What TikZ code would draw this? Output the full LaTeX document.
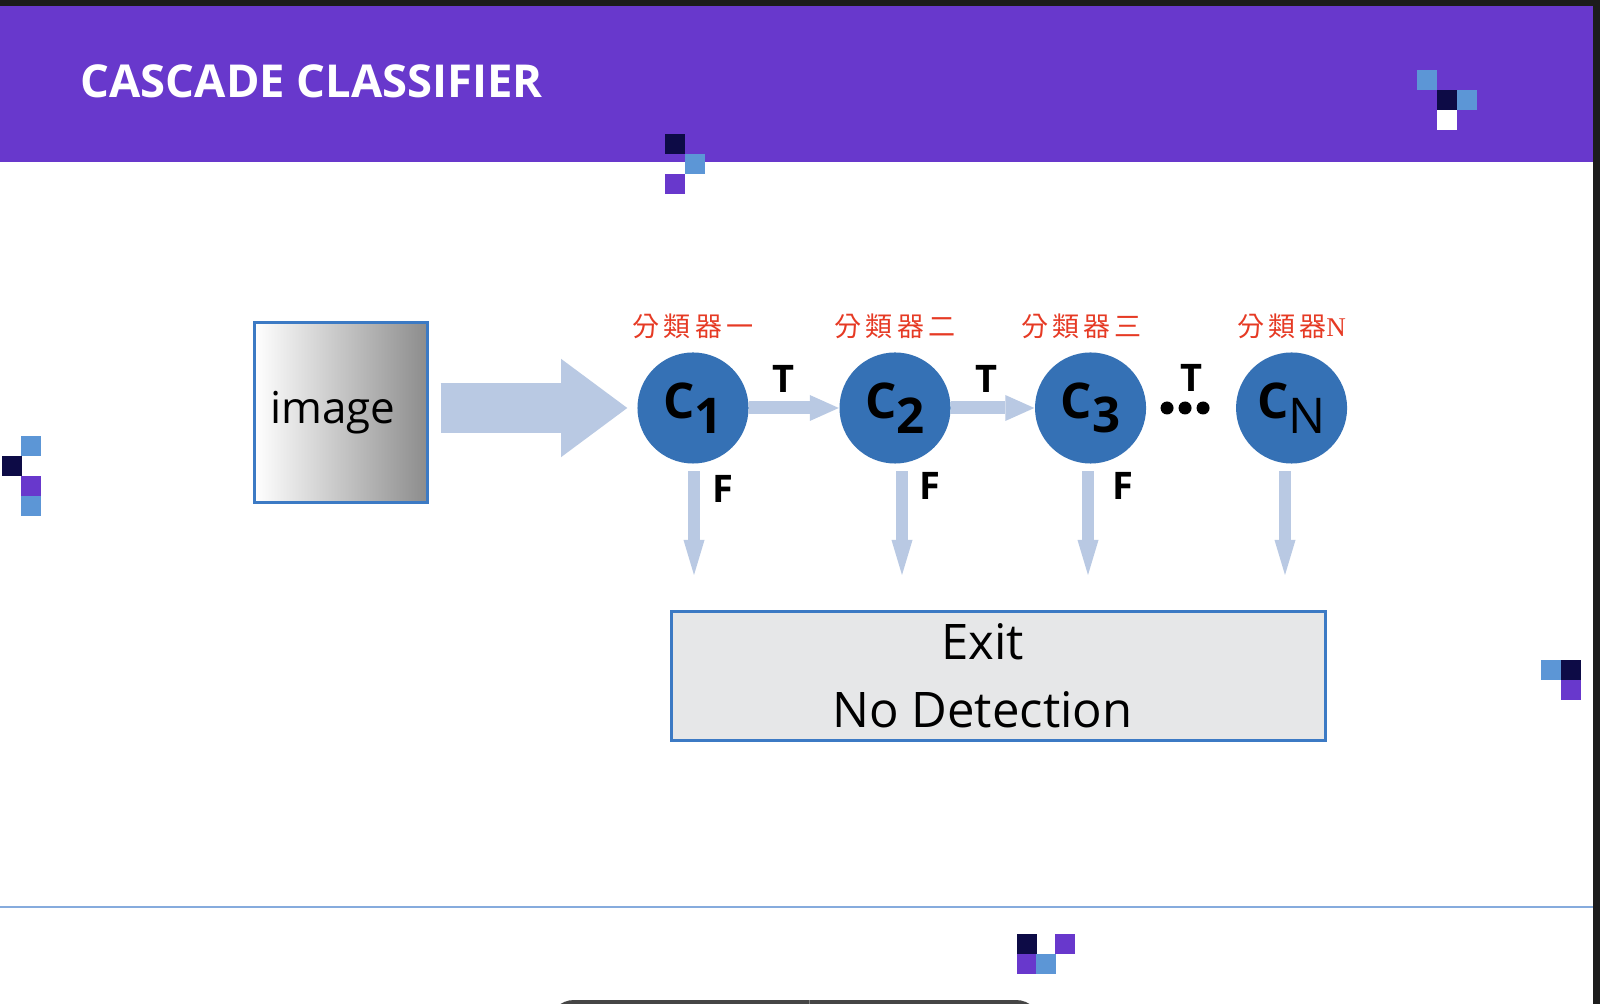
\documentclass[tikz,border=0pt]{standalone}
\usepackage{fontspec}
\setmainfont{Open Sans}
\newfontfamily\cjk[LetterSpace=15]{Noto Sans CJK TC}
\newfontfamily\serifN{Liberation Serif}
\usetikzlibrary{positioning,arrows.meta}
\definecolor{banner}{HTML}{6838CC}
\definecolor{navy}{HTML}{0D0B46}
\definecolor{tileblue}{HTML}{5C96D6}
\definecolor{edge}{HTML}{1C1C1C}
\definecolor{pill}{HTML}{454545}
\definecolor{rule}{HTML}{86ABDD}
\definecolor{cblue}{HTML}{3571B5}
\definecolor{flow}{HTML}{B9C9E3}
\definecolor{boxblue}{HTML}{3C7AC4}
\definecolor{exitgray}{HTML}{E6E7E8}
\definecolor{imggray}{HTML}{8C8C8C}
\definecolor{clsred}{HTML}{E63A24}

\begin{document}
\begin{tikzpicture}[x=0.01cm, y=-0.01cm,
						title/.style={inner sep=0pt, text=white, font=\fontsize{12.9}{15}\selectfont\bfseries},
						classifier/.style={circle, fill=cblue, minimum size=1.11cm, inner sep=0pt, font=\fontsize{14}{16}\selectfont\bfseries},
						imgbox/.style={rectangle, draw=boxblue, line width=0.03cm, left color=white, right color=imggray, minimum width=1.73cm, minimum height=1.80cm, font=\fontsize{12.5}{14}\selectfont},
						exitbox/.style={rectangle, draw=boxblue, line width=0.03cm, fill=exitgray, minimum width=6.54cm, minimum height=1.29cm},
						exittext/.style={inner sep=0pt, align=center, font=\fontsize{13.94}{19.35}\selectfont},
						cls/.style={inner sep=0pt, text=clsred, font=\fontsize{7.7}{9}\selectfont\cjk},
						tf/.style={inner sep=0pt, font=\fontsize{10.8}{12}\selectfont\bfseries},
						bigflow/.style={draw=flow, line width=0.5cm, shorten <=0.115cm, shorten >=0.095cm, -{Triangle[length=0.66cm 0 0, width=0.98cm 0 0, line width=0pt]}},
						tflow/.style={draw=flow, line width=0.13cm, -{Triangle[length=0.29cm 0 0, width=0.26cm 0 0, line width=0pt]}},
						fflow/.style={draw=flow, line width=0.12cm, shorten <=0.07cm, -{Triangle[length=0.35cm 0 0, width=0.21cm 0 0, line width=0pt]}}
					]
					\useasboundingbox (0,0) rectangle (1600,1004);
					\fill[white] (0,0) rectangle (1600,1004);
					\fill[edge] (0,0) rectangle (1600,6);
					\fill[edge] (1593,0) rectangle (1600,1004);
					\fill[banner] (0,6) rectangle (1593,162);
					\node[title, anchor=base west] (title) at (80,98) {CASCADE CLASSIFIER};
					\fill[navy] (665,134) rectangle ++(20,20);
					\fill[tileblue] (685,154) rectangle ++(20,20);
					\fill[banner] (665,174) rectangle ++(20,20);
					\fill[tileblue] (1417,70) rectangle ++(20,20);
					\fill[navy] (1437,90) rectangle ++(20,20);
					\fill[tileblue] (1457,90) rectangle ++(20,20);
					\fill[white] (1437,110) rectangle ++(20,20);
					\fill[tileblue] (21,436) rectangle ++(20,20);
					\fill[navy] (2,456) rectangle ++(20,20);
					\fill[banner] (21,476) rectangle ++(20,20);
					\fill[tileblue] (21,496) rectangle ++(20,20);
					\fill[tileblue] (1541,660) rectangle ++(20,20);
					\fill[navy] (1561,660) rectangle ++(20,20);
					\fill[banner] (1561,680) rectangle ++(20,20);
					\fill[navy] (1017,934) rectangle ++(20,20);
					\fill[banner] (1055,934) rectangle ++(20,20);
					\fill[banner] (1017,954) rectangle ++(20,20);
					\fill[tileblue] (1036,954) rectangle ++(20,20);
					\draw[rule, line width=0.02cm] (0,907) -- (1593,907);
					\begin{scope}
					\clip (0,0) rectangle (1600,1004);
					\fill[pill, rounded corners=0.25cm] (549,1000) rectangle (1041,1050);
					\draw[gray, line width=0.01cm] (809,1000) -- (809,1004);
					\end{scope}
					\node[imgbox] (img) at (341,412.5) {\hspace*{-0.16cm}image};
					\node[classifier] (c1) at (693,408) {C\raisebox{-0.3em}{1}};
					\node[classifier] (c2) [right=0.895cm of c1] {C\raisebox{-0.3em}{2}};
					\node[classifier] (c3) [right=0.83cm of c2] {C\raisebox{-0.3em}{3}};
					\node[classifier] (cn) [right=0.885cm of c3] {C\raisebox{-0.3em}{\mdseries N}};
					\node[cls] (name1) [above=0.125cm of c1] {分類器一};
					\node[cls] (name2) [above=0.125cm of c2] {分類器二};
					\node[cls] (name3) [above=0.125cm of c3, xshift=-0.09cm] {分類器三};
					\node[cls] (namen) [above=0.125cm of cn] {分類器{\serifN N}};
					\node[exitbox] (exit) at (998.5,676) {};
					\node[exittext] (exitlabel) at ([xshift=-0.16cm]exit.center) {Exit\\No Detection};
					\path (c3) -- (cn) coordinate[midway] (dots);
					\fill ([xshift=-0.24cm]dots) circle[radius=0.065cm];
					\fill ([xshift=-0.06cm]dots) circle[radius=0.065cm];
					\fill ([xshift=0.12cm]dots) circle[radius=0.065cm];
					\node[tf] (tdots) [above=0.16cm of dots] {T};
					\coordinate (e1) at (694,575);
					\coordinate (e2) at (902,575);
					\coordinate (e3) at (1088,575);
					\coordinate (en) at (1285,575);
					\draw[bigflow] (img.east |- c1.west) -- (c1.west);
					\draw[tflow] (c1) -- (c2) node[tf, pos=0.38, above=0.09cm] {T};
					\draw[tflow] (c2) -- (c3) node[tf, pos=0.42, above=0.09cm] {T};
					\draw[fflow] (c1.south -| e1) -- (e1) node[tf, pos=0.22, right=0.12cm] {F};
					\draw[fflow] (c2.south -| e2) -- (e2) node[tf, pos=0.2, right=0.11cm] {F};
					\draw[fflow] (c3.south -| e3) -- (e3) node[tf, pos=0.2, right=0.18cm] {F};
					\draw[fflow] (cn.south -| en) -- (en);
					\end{tikzpicture}
\end{document}
